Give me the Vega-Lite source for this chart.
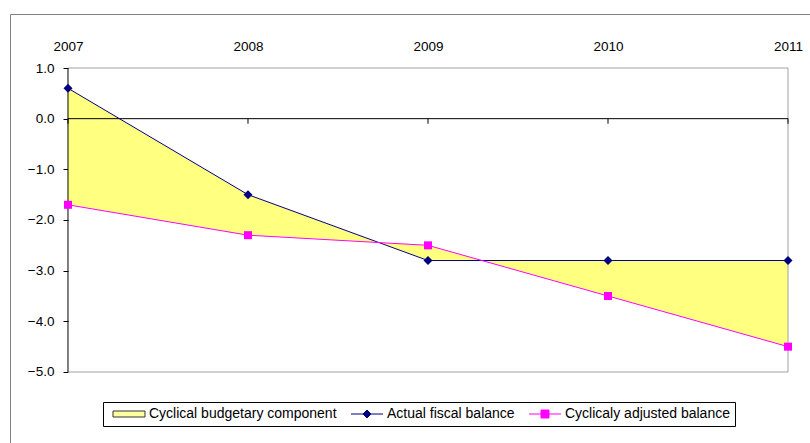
{
  "$schema": "https://vega.github.io/schema/vega-lite/v6.json",
  "autosize": {"type": "none"},
  "padding": {"left": 10, "top": 14, "right": 0, "bottom": 0},
  "width": 836,
  "height": 435,
  "background": "white",
  "config": {
    "view": {"stroke": "#808080", "strokeWidth": 1},
    "font": "Liberation Sans"
  },
  "datasets": {
    "wide": [
      {"year": "2007", "actual": 0.6, "adjusted": -1.7},
      {"year": "2008", "actual": -1.5, "adjusted": -2.3},
      {"year": "2009", "actual": -2.8, "adjusted": -2.5},
      {"year": "2010", "actual": -2.8, "adjusted": -3.5},
      {"year": "2011", "actual": -2.8, "adjusted": -4.5}
    ],
    "long": [
      {"year": "2007", "series": "Actual fiscal balance", "value": 0.6},
      {"year": "2008", "series": "Actual fiscal balance", "value": -1.5},
      {"year": "2009", "series": "Actual fiscal balance", "value": -2.8},
      {"year": "2010", "series": "Actual fiscal balance", "value": -2.8},
      {"year": "2011", "series": "Actual fiscal balance", "value": -2.8},
      {"year": "2007", "series": "Cyclicaly adjusted balance", "value": -1.7},
      {"year": "2008", "series": "Cyclicaly adjusted balance", "value": -2.3},
      {"year": "2009", "series": "Cyclicaly adjusted balance", "value": -2.5},
      {"year": "2010", "series": "Cyclicaly adjusted balance", "value": -3.5},
      {"year": "2011", "series": "Cyclicaly adjusted balance", "value": -4.5}
    ]
  },
  "layer": [
    {
      "data": {"name": "wide"},
      "mark": {"type": "area", "color": "#FFFF80", "opacity": 1},
      "encoding": {
        "x": {
          "field": "year", "type": "ordinal",
          "scale": {"type": "point", "padding": 0.3222},
          "axis": {
            "orient": "top", "offset": -54, "domain": false, "ticks": false,
            "labelPadding": 15, "labelAngle": 0, "title": null,
            "labelFontSize": 13.5, "labelColor": "#000", "labelFont": "Liberation Sans"
          }
        },
        "y": {
          "field": "actual", "type": "quantitative",
          "scale": {"domain": [-6.52, 2.066], "nice": false, "zero": false},
          "axis": {
            "orient": "left", "offset": -58, "domain": false, "grid": false,
            "values": [-5, -4, -3, -2, -1, 0, 1], "format": ".1f",
            "tickSize": 5, "tickColor": "#000", "labelPadding": 9,
            "labelFontSize": 13.5, "labelColor": "#000", "title": null,
            "labelFont": "Liberation Sans"
          }
        },
        "y2": {"field": "adjusted"}
      }
    },
    {
      "data": {"values": [{}]},
      "mark": {"type": "rule", "color": "#A0A0A0", "strokeWidth": 1},
      "encoding": {
        "x": {"datum": "2007", "type": "ordinal"},
        "x2": {"datum": "2011"},
        "y": {"datum": 1, "type": "quantitative"}
      }
    },
    {
      "data": {"values": [{}]},
      "mark": {"type": "rule", "color": "#A0A0A0", "strokeWidth": 1},
      "encoding": {
        "x": {"datum": "2007", "type": "ordinal"},
        "x2": {"datum": "2011"},
        "y": {"datum": -5, "type": "quantitative"}
      }
    },
    {
      "data": {"values": [{}]},
      "mark": {"type": "rule", "color": "#A0A0A0", "strokeWidth": 1},
      "encoding": {
        "x": {"datum": "2011", "type": "ordinal"},
        "y": {"datum": -5, "type": "quantitative"},
        "y2": {"datum": 1}
      }
    },
    {
      "data": {"values": [{}]},
      "mark": {"type": "rule", "color": "#000", "strokeWidth": 1},
      "encoding": {
        "x": {"datum": "2007", "type": "ordinal"},
        "y": {"datum": -5, "type": "quantitative"},
        "y2": {"datum": 1}
      }
    },
    {
      "data": {"values": [{}]},
      "mark": {"type": "rule", "color": "#000", "strokeWidth": 1},
      "encoding": {
        "x": {"datum": "2007", "type": "ordinal"},
        "x2": {"datum": "2011"},
        "y": {"datum": 0, "type": "quantitative"}
      }
    },
    {
      "data": {"name": "wide"},
      "mark": {"type": "rule", "color": "#000", "strokeWidth": 1},
      "encoding": {
        "x": {"field": "year", "type": "ordinal"},
        "y": {"datum": 0, "type": "quantitative"},
        "y2": {"datum": -0.1}
      }
    },
    {
      "data": {"name": "long"},
      "mark": {"type": "line", "strokeWidth": 1},
      "encoding": {
        "x": {"field": "year", "type": "ordinal"},
        "y": {"field": "value", "type": "quantitative"},
        "stroke": {
          "field": "series", "type": "nominal",
          "scale": {
            "domain": ["Cyclical budgetary component", "Actual fiscal balance", "Cyclicaly adjusted balance"],
            "range": ["#333333", "#000080", "#FF00FF"]
          },
          "legend": {
            "orient": "none", "legendX": 93, "legendY": 388,
            "direction": "horizontal", "title": null,
            "strokeColor": "#000", "padding": 5,
            "labelFontSize": 14, "labelFont": "Liberation Sans", "labelColor": "#000",
            "labelLimit": 400, "labelOffset": 27, "columnPadding": 9,
            "symbolSize": 100, "symbolStrokeWidth": 1,
            "encode": {
              "symbols": {
                "update": {
                  "shape": {"signal": "datum.value === 'Cyclical budgetary component' ? 'M-0.4,-0.6L6,-0.6L6,0.6L-0.4,0.6Z' : datum.value === 'Actual fiscal balance' ? 'M-0.4,0L6,0M2.8,-0.8L3.6,0L2.8,0.8L2,0Z' : 'M-0.4,0L6,0M2,-0.8L3.6,-0.8L3.6,0.8L2,0.8Z'"},
                  "strokeWidth": {"value": 1},
                  "size": {"value": 100}
                }
              }
            }
          }
        }
      }
    },
    {
      "data": {"name": "long"},
      "mark": {"type": "point", "filled": true, "opacity": 1},
      "encoding": {
        "x": {"field": "year", "type": "ordinal"},
        "y": {"field": "value", "type": "quantitative"},
        "fill": {
          "field": "series", "type": "nominal",
          "scale": {
            "domain": ["Cyclical budgetary component", "Actual fiscal balance", "Cyclicaly adjusted balance"],
            "range": ["#FFFFA0", "#000080", "#FF00FF"]
          },
          "legend": {
            "orient": "none", "legendX": 93, "legendY": 388,
            "direction": "horizontal", "title": null,
            "strokeColor": "#000", "padding": 5,
            "labelFontSize": 14, "labelFont": "Liberation Sans", "labelColor": "#000",
            "labelLimit": 400, "labelOffset": 27, "columnPadding": 9,
            "symbolSize": 100, "symbolStrokeWidth": 1,
            "encode": {
              "symbols": {
                "update": {
                  "shape": {"signal": "datum.value === 'Cyclical budgetary component' ? 'M-0.4,-0.6L6,-0.6L6,0.6L-0.4,0.6Z' : datum.value === 'Actual fiscal balance' ? 'M-0.4,0L6,0M2.8,-0.8L3.6,0L2.8,0.8L2,0Z' : 'M-0.4,0L6,0M2,-0.8L3.6,-0.8L3.6,0.8L2,0.8Z'"},
                  "strokeWidth": {"value": 1},
                  "size": {"value": 100}
                }
              }
            }
          }
        },
        "shape": {
          "field": "series", "type": "nominal",
          "scale": {"domain": ["Actual fiscal balance", "Cyclicaly adjusted balance"], "range": ["diamond", "square"]},
          "legend": null
        },
        "size": {
          "field": "series", "type": "nominal",
          "scale": {"domain": ["Actual fiscal balance", "Cyclicaly adjusted balance"], "range": [81, 64]},
          "legend": null
        }
      }
    }
  ]
}
